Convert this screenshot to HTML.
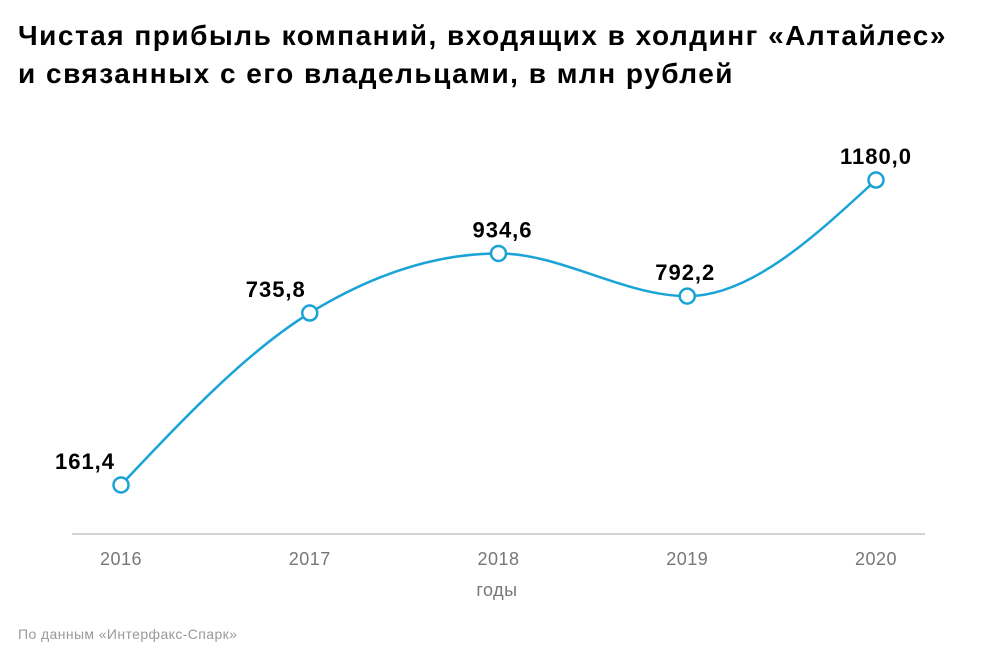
<!DOCTYPE html>
<html><head><meta charset="utf-8"><style>
body{margin:0;background:#fff;width:1000px;height:666px;overflow:hidden;font-family:"Liberation Sans","Noto Sans CJK SC",sans-serif;}
#title{position:absolute;left:18px;top:17px;font-size:28px;font-weight:bold;line-height:38px;color:#000;letter-spacing:1.5px;white-space:nowrap;}
#src{position:absolute;left:18px;top:626px;font-size:14px;color:#999;letter-spacing:0.4px;}
svg{position:absolute;left:0;top:0;}
</style></head><body>
<div id="title">Чистая прибыль компаний, входящих в холдинг «Алтайлес»<br>и связанных с его владельцами, в млн рублей</div>
<svg id="chart" width="1000" height="666"></svg>
<div id="src">По данным «Интерфакс-Спарк»</div>
<script>
const years=["2016","2017","2018","2019","2020"];
const values=[161.4,735.8,934.6,792.2,1180.0];
const valueLabels=["161,4","735,8","934,6","792,2","1180,0"];
const NS="http://www.w3.org/2000/svg";
const svg=document.getElementById('chart');
const x=i=>121+i*188.75;
const y=v=>533.3-v*0.2994;
function mk(t,a){const e=document.createElementNS(NS,t);for(const k in a)e.setAttribute(k,a[k]);svg.appendChild(e);return e;}
const axis=mk('line',{x1:72,x2:925,y1:534,y2:534,stroke:'#aaa','stroke-width':1});


years.forEach((yr,i)=>{const t=mk('text',{x:x(i),y:565,'text-anchor':'middle','font-size':18,'letter-spacing':0.5,fill:'#777'});t.textContent=yr;

});
const at=mk('text',{x:497,y:596,'text-anchor':'middle','font-size':18,'letter-spacing':0.5,fill:'#777'});at.textContent='годы';


const px=values.map((v,i)=>x(i)),py=values.map(v=>y(v));
const n=px.length,d=[],m=[];
for(let i=0;i<n-1;i++)d.push((py[i+1]-py[i])/(px[i+1]-px[i]));
for(let i=0;i<n;i++){
 if(i==0)m.push(d[0]);else if(i==n-1)m.push(d[n-2]);
 else m.push(d[i-1]*d[i]<=0?0:(()=>{const h0=px[i]-px[i-1],h1=px[i+1]-px[i],p=(d[i-1]*h1+d[i]*h0)/(h0+h1);return (Math.sign(d[i-1])+Math.sign(d[i]))*Math.min(Math.abs(d[i-1]),Math.abs(d[i]),0.5*Math.abs(p));})());}
m[0]=(3*d[0]-m[1])/2; m[n-1]=(3*d[n-2]-m[n-2])/2;
let p='M'+px[0]+','+py[0];
for(let i=0;i<n-1;i++){const h=(px[i+1]-px[i])/3;p+=` C${px[i]+h},${py[i]+m[i]*h} ${px[i+1]-h},${py[i+1]-m[i+1]*h} ${px[i+1]},${py[i+1]}`;}
const line=mk('path',{d:p,fill:'none',stroke:'#1aa3d6','stroke-width':2.5});


const off=[-36,-34,4,-2,0];
values.forEach((v,i)=>{
 const c=mk('circle',{cx:x(i),cy:y(v),r:7.5,fill:'#fff',stroke:'#1aa3d6','stroke-width':2.5});
 
 
 const t=mk('text',{x:x(i)+off[i],y:y(v)-16,'text-anchor':'middle','font-size':22,'letter-spacing':1,'font-weight':'bold',fill:'#000'});
 t.textContent=valueLabels[i];
 
 
});
</script>
</body></html>
